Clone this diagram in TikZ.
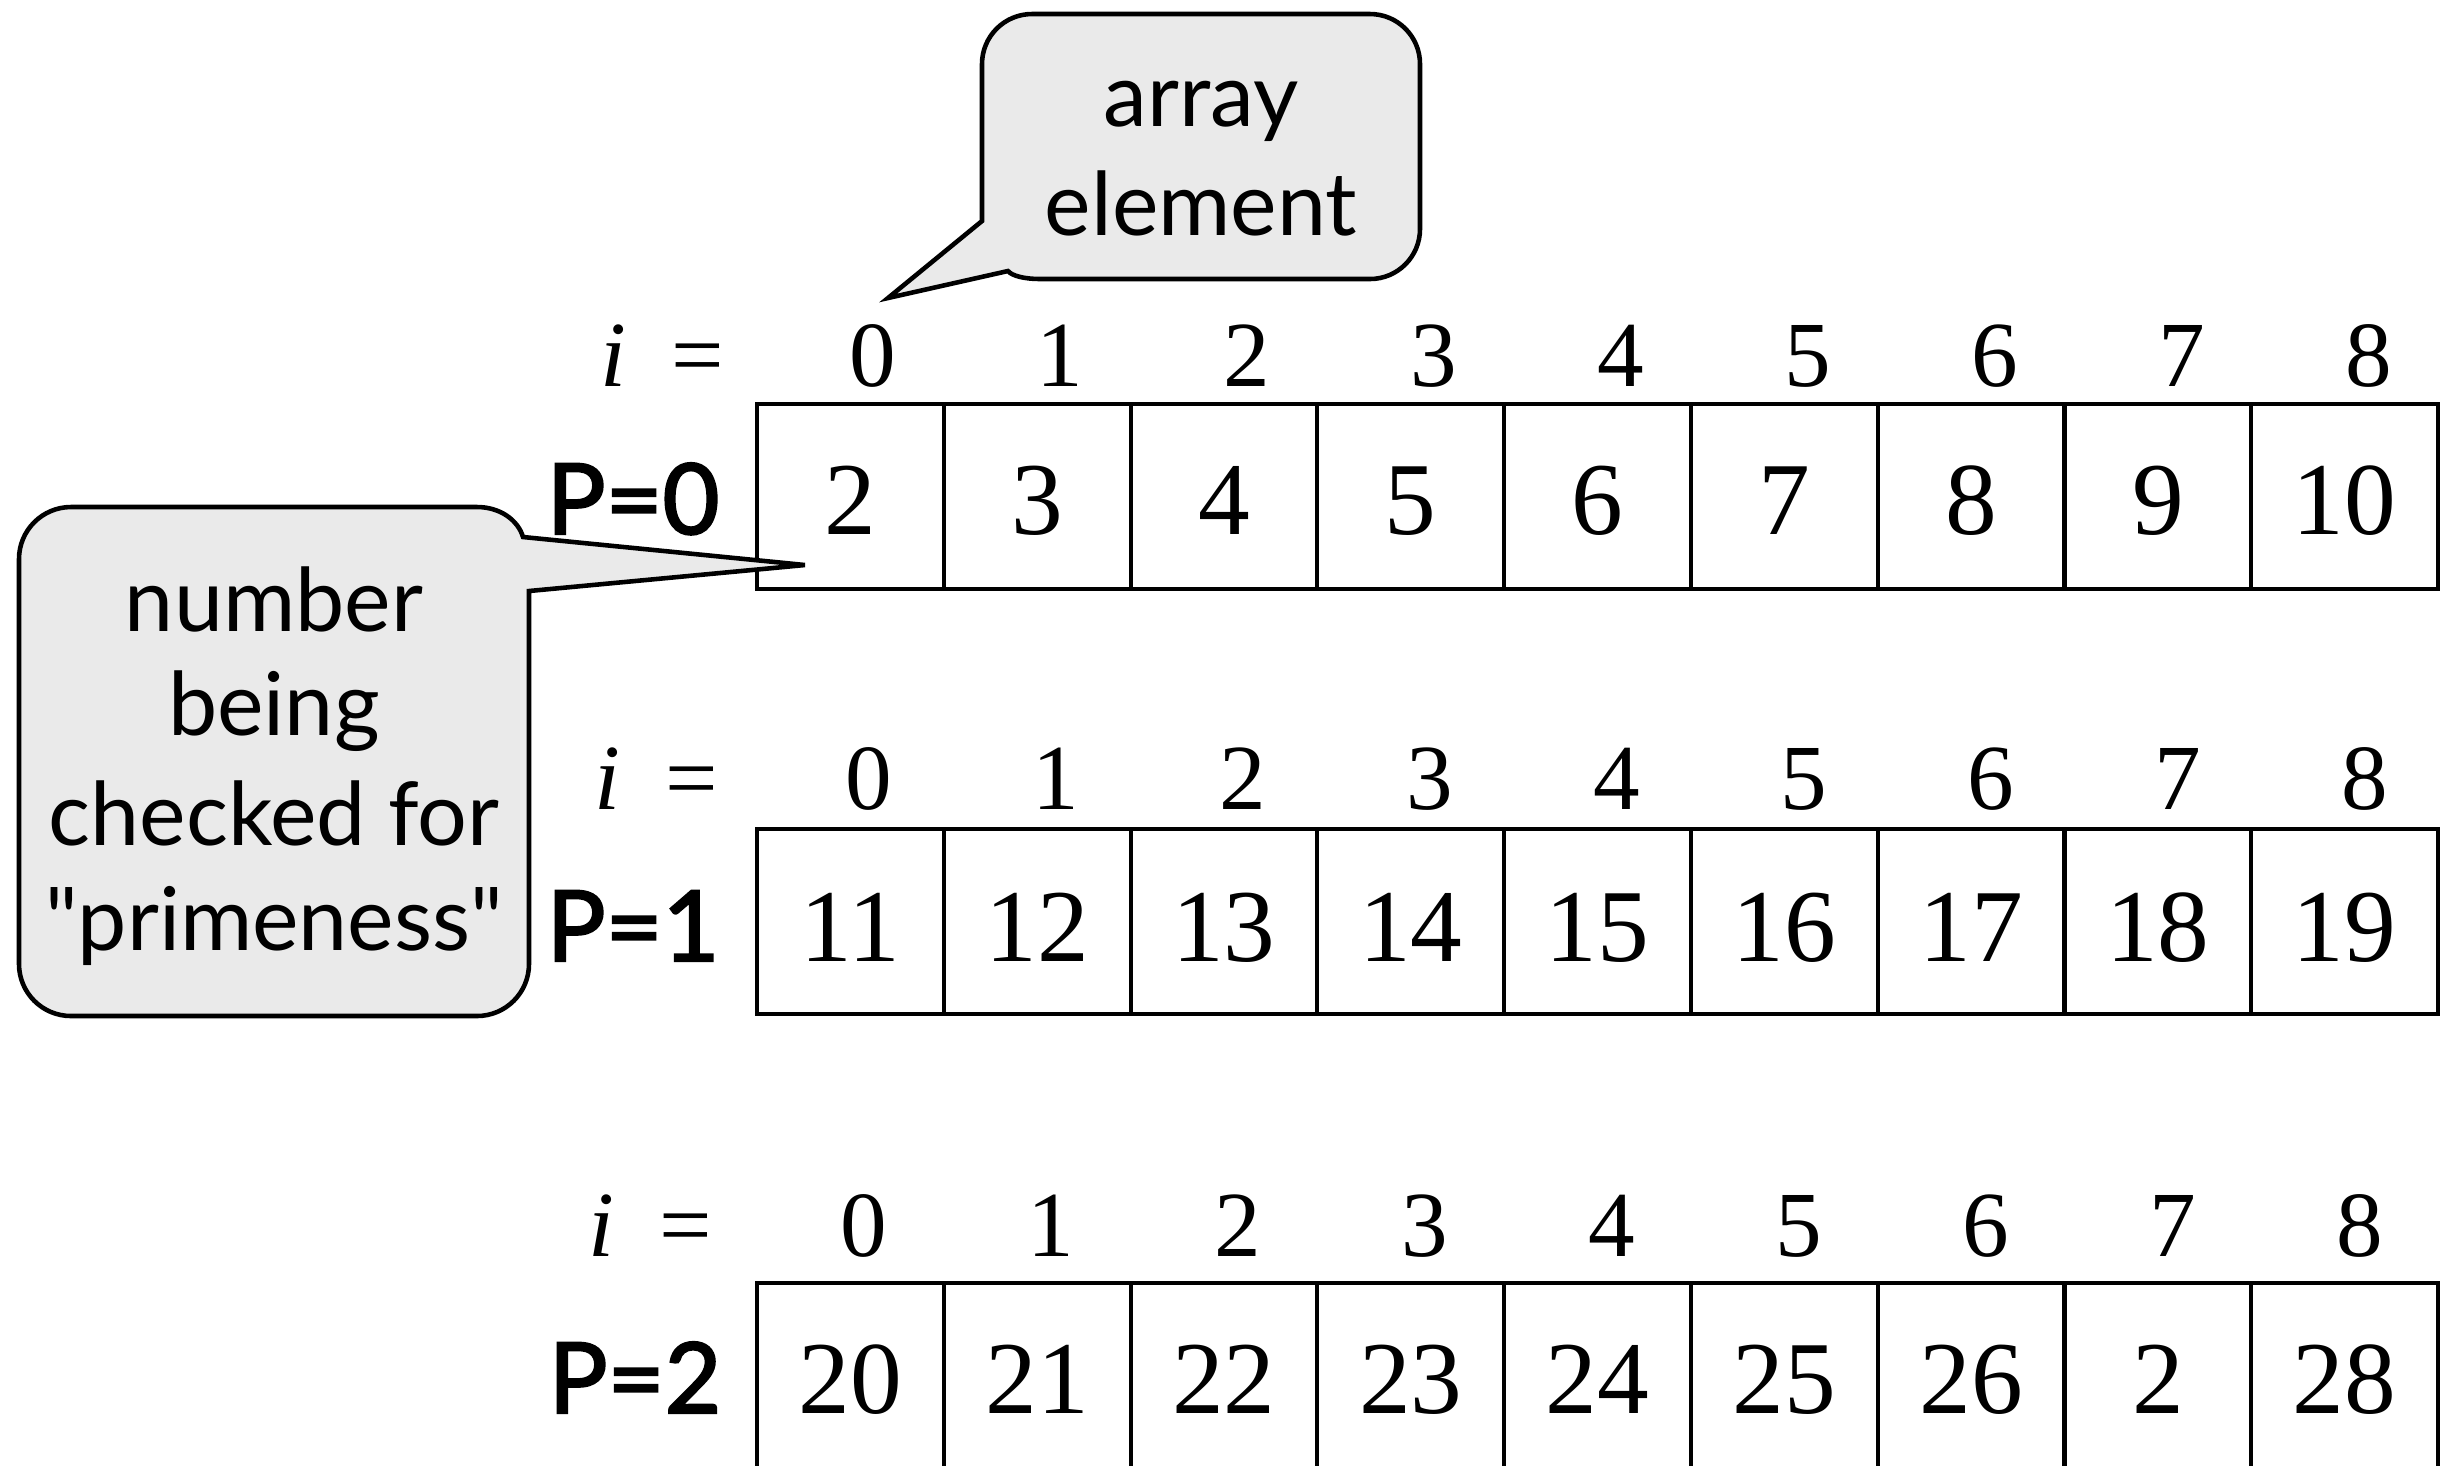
\documentclass[tikz,border=0pt]{standalone}
\usepackage{fontspec}
\setmainfont{Liberation Serif}
\newfontfamily\gillfont{Lato}
\newfontfamily\gillheavy{Lato}[FakeBold=2.2]
\definecolor{calloutgray}{HTML}{EAEAEA}
\begin{document}
\begin{tikzpicture}[x=0.01cm,y=-0.01cm,
  arr/.style={line width=1.4pt, draw=black},
  divider/.style={line width=1.15pt, draw=black},
  callout/.style={line width=1.3pt, draw=black, fill=calloutgray, line join=miter},
  cellnum/.style={font=\fontsize{29.4pt}{30pt}\selectfont, anchor=base, inner sep=0pt},
  idx/.style={font=\fontsize{26.5pt}{27pt}\selectfont, anchor=base, inner sep=0pt},
  plabel/.style={font=\gillheavy\fontsize{27.9pt}{28pt}\selectfont, anchor=base west, inner sep=0pt},
  ctext/.style={font=\gillfont\fontsize{25pt}{30pt}\selectfont, anchor=base, inner sep=0pt}]
\useasboundingbox (0,0) rectangle (2454,1465);

% array rows
\foreach \top in {404,829,1283} {
  \foreach \k in {1,...,8} \draw[divider] (757+\k*186.78,\top) -- (757+\k*186.78,\top+185);
  \draw[arr] (757,\top) rectangle (2438,\top+185);
}

% cell contents
\foreach \v [count=\k from 0] in {2,3,4,5,6,7,8,9,10}
  \node[cellnum] (a\k) at (850.4+\k*186.78,534) {\v};
\foreach \v [count=\k from 0] in {11,12,13,14,15,16,17,18,19}
  \node[cellnum] (b\k) at (850.4+\k*186.78,961) {\v};
\foreach \v [count=\k from 0] in {20,21,22,23,24,25,26,2,28}
  \node[cellnum] (c\k) at (850.4+\k*186.78,1413) {\v};

% indices
\foreach \k in {0,...,8} \node[idx] (ia\k) at (873+\k*187,386) {\k};
\foreach \k in {0,...,8} \node[idx] (ib\k) at (869+\k*187,809) {\k};
\foreach \k in {0,...,8} \node[idx] (ic\k) at (864+\k*187,1256) {\k};
\node[idx, anchor=base east] (ieqa) at (725,386) {\textit{i}\hspace{13pt}=};
\node[idx, anchor=base east] (ieqb) at (719,809) {\textit{i}\hspace{13pt}=};
\node[idx, anchor=base east] (ieqc) at (713,1256) {\textit{i}\hspace{13pt}=};

% P labels
\node[plabel] (pa) at (546,534) {P=0};
\node[plabel] (pb) at (546,961) {P=1};
\node[plabel] (pc) at (548,1413) {P=2};

% callout: array element
\draw[callout] (982,221) -- (982,64) .. controls (982,36.4) and (1004.4,14) .. (1032,14)
  -- (1370,14) .. controls (1397.6,14) and (1420,36.4) .. (1420,64)
  -- (1420,229) .. controls (1420,256.6) and (1397.6,279) .. (1370,279)
  -- (1040,279) .. controls (1025,279) and (1012,276) .. (1008,271)
  -- (888,298) -- cycle;
\node[ctext] (ca1) at (1201,126) {array};
\node[ctext] (ca2) at (1201,235) {element};

% callout: number being checked
\draw[callout] (529,591) -- (529,964) .. controls (529,992.7) and (505.7,1016) .. (477,1016)
  -- (71,1016) .. controls (42.3,1016) and (19,992.7) .. (19,964)
  -- (19,559) .. controls (19,530.3) and (42.3,507) .. (71,507)
  -- (477,507) .. controls (500,507) and (518,520) .. (523,537)
  -- (805,565) -- cycle;
\node[ctext] (cb1) at (274,631) {number};
\node[ctext] (cb2) at (274,735) {being};
\node[ctext] (cb3) at (274,845) {checked for};
\node[ctext] (cb4) at (274,950) {"primeness"};
\end{tikzpicture}
\end{document}
